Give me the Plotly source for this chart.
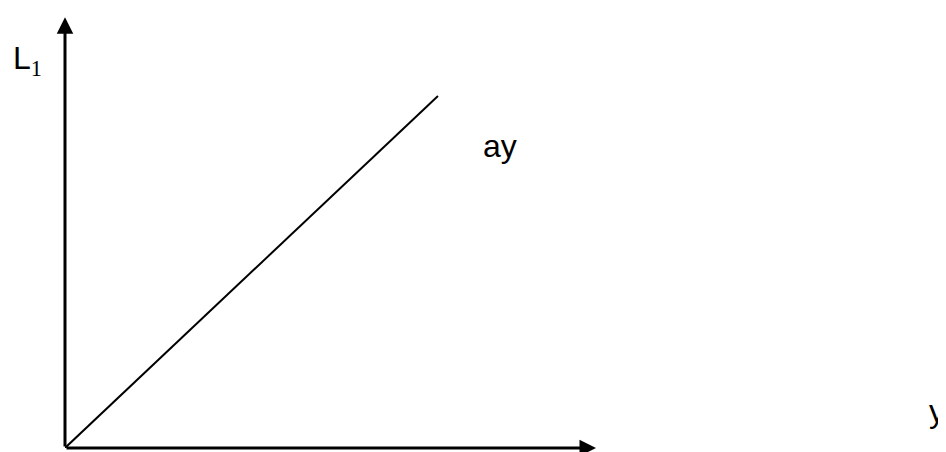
import plotly.graph_objects as go

# data (axis units)
line_x = [0, 4.2]
line_y = [0, 8.0]
x_axis_end = 5.98
y_axis_end = 9.79

label_curve = "ay"
label_x = "y"
label_y = "L<sub><span style='font-family:\"Liberation Serif\", \"Times New Roman\", serif'>1</span></sub>"

fig = go.Figure()
fig.add_trace(go.Scatter(x=line_x, y=line_y, mode="lines",
                         line=dict(color="black", width=2), showlegend=False,
                         hoverinfo="skip", cliponaxis=False))

# axes with arrowheads
for (xt, yt) in [(0, y_axis_end), (x_axis_end, 0)]:
    fig.add_annotation(x=xt, y=yt, ax=0, ay=0, xref="x", yref="y", axref="x", ayref="y",
                       text="", showarrow=True, arrowhead=2, arrowsize=1.1,
                       arrowwidth=3, arrowcolor="black", standoff=0, startstandoff=0)

font = dict(family="Liberation Sans, Arial, sans-serif", size=32, color="black")
fig.add_annotation(x=4.9, y=6.86, xref="x", yref="y", text=label_curve, showarrow=False,
                   font=font, xanchor="center", yanchor="middle")
fig.add_annotation(x=0.993, y=0.084, xref="paper", yref="paper",
                   text=label_x, showarrow=False, font=font, xanchor="right", yanchor="middle")
fig.add_annotation(x=-0.0613, y=0.932, xref="paper", yref="paper",
                   text=label_y, showarrow=False, font=font, xanchor="left", yanchor="top")

fig.update_xaxes(range=[0, 10], visible=False, fixedrange=True)
fig.update_yaxes(range=[0, 10], visible=False, fixedrange=True)
fig.update_layout(width=946, height=452, margin=dict(l=57, r=1, t=0, b=12),
                  plot_bgcolor="white", paper_bgcolor="white")
fig.write_html("out.html")
